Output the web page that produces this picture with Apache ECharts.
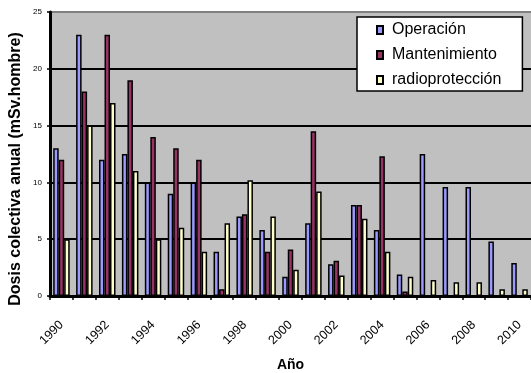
<!DOCTYPE html>
<html>
<head>
<meta charset="utf-8">
<script src="https://cdn.jsdelivr.net/npm/echarts@6/dist/echarts.min.js"></script>
<style>
  html, body { margin: 0; padding: 0; background: #ffffff; }
  #chart { width: 531px; height: 373px; }
</style>
</head>
<body>
<div id="chart"></div>
<script>
// Annual collective dose by work type, 1990-2010
var years = ['1990','1991','1992','1993','1994','1995','1996','1997','1998','1999',
             '2000','2001','2002','2003','2004','2005','2006','2007','2008','2009','2010'];
var operacion     = [13, 23, 12, 12.5, 10, 9, 10, 3.9, 7, 5.8, 1.7, 6.4, 2.8, 8, 5.8, 1.9, 12.5, 9.6, 9.6, 4.8, 2.9];
var mantenimiento = [12, 18, 23, 19, 14, 13, 12, 0.6, 7.2, 3.9, 4.1, 14.5, 3.1, 8, 12.3, 0.4, 0, 0, 0, 0, 0];
var radioproteccion = [5, 15, 17, 11, 5, 6, 3.9, 6.4, 10.2, 7, 2.3, 9.2, 1.8, 6.8, 3.9, 1.7, 1.4, 1.2, 1.2, 0.6, 0.6];
var yTicks = [0, 5, 10, 15, 20, 25];

var seriesNames = ['Operación', 'Mantenimiento', 'radioprotección'];
var seriesColors = ['#9999ff', '#993366', '#ffffcc'];
var seriesData = [operacion, mantenimiento, radioproteccion];

var chart = echarts.init(document.getElementById('chart'), null, { renderer: 'canvas' });

var option = {
  animation: false,
  backgroundColor: '#ffffff',
  textStyle: { fontFamily: '"Liberation Sans", Arial, sans-serif', color: '#000' },
  grid: {
    left: 50, right: 0, top: 12, bottom: 77,
    outerBoundsMode: 'none',
    containLabel: false,
    show: true, backgroundColor: '#c0c0c0', borderWidth: 0
  },
  legend: {
    orient: 'vertical',
    left: 357, top: 17,
    data: seriesNames,
    backgroundColor: '#ffffff',
    borderColor: '#000000',
    borderWidth: 1.5,
    borderRadius: 0,
    padding: [5, 21, 3, 19],
    itemGap: 9,
    itemWidth: 6,
    itemHeight: 8,
    icon: 'rect',
    textStyle: { fontSize: 16, color: '#000', lineHeight: 16, padding: [0, 0, 0, 4] }
  },
  xAxis: {
    type: 'category',
    data: years,
    boundaryGap: true,
    name: 'Año',
    nameLocation: 'middle',
    nameGap: 62,
    nameMoveOverlap: false,
    nameTextStyle: { fontSize: 14, fontWeight: 'bold', color: '#000' },
    axisLine: { show: true, lineStyle: { color: '#000', width: 3 } },
    axisTick: { show: true, interval: 0, length: 4, lineStyle: { color: '#000', width: 1.5 } },
    axisLabel: { interval: 1, rotate: 45, fontSize: 12.5, color: '#000', margin: 27 },
    splitLine: { show: false }
  },
  yAxis: {
    type: 'value',
    min: 0, max: 25, interval: 5,
    name: 'Dosis colectiva anual (mSv.hombre)',
    nameLocation: 'middle',
    nameGap: 26,
    nameMoveOverlap: false,
    nameTextStyle: { fontSize: 16, fontWeight: 'bold', color: '#000', padding: [0, 30, 0, 0] },
    axisLine: { show: true, lineStyle: { color: '#000', width: 3 } },
    axisTick: { show: true, length: 3, lineStyle: { color: '#000', width: 1.5 } },
    axisLabel: {
      fontSize: 8, color: '#000', margin: 8,
      formatter: function (v) { return yTicks.indexOf(v) >= 0 ? String(v) : ''; }
    },
    splitLine: {
      show: true,
      lineStyle: { color: ['#000', '#000', '#000', '#000', '#000', '#808080'], width: 2 }
    }
  },
  series: seriesNames.map(function (name, i) {
    return {
      name: name,
      type: 'bar',
      data: seriesData[i],
      barWidth: 5.5,
      barGap: '0%',
      itemStyle: { color: seriesColors[i], borderColor: '#000', borderWidth: 1.5 }
    };
  })
};

chart.setOption(option);
</script>
</body>
</html>
